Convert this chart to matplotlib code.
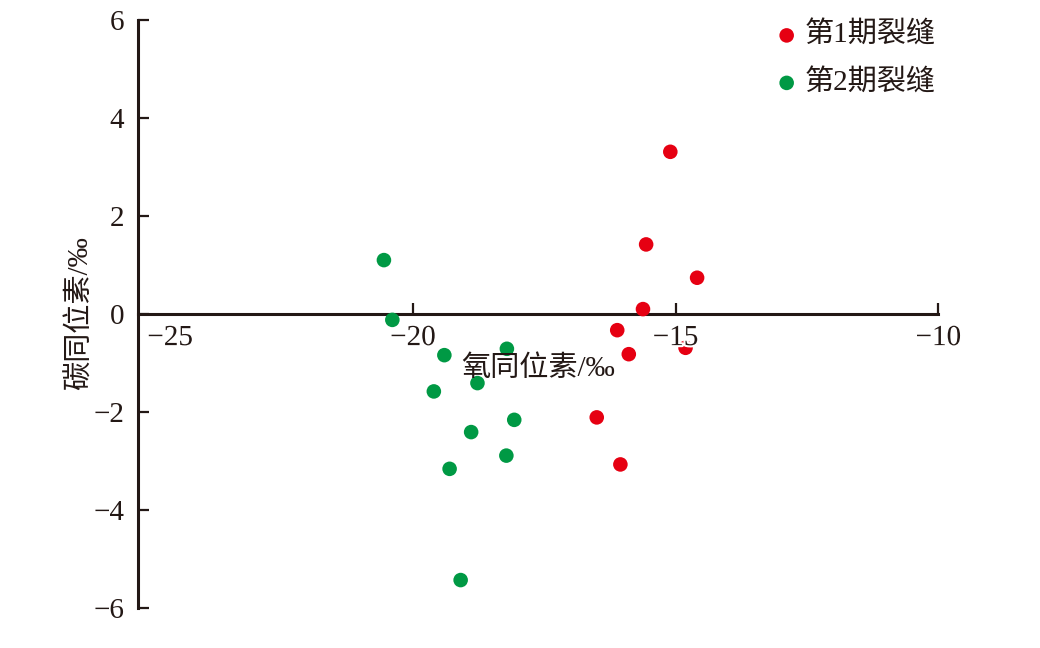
import matplotlib
matplotlib.use("Agg")
import matplotlib.pyplot as plt
import matplotlib.transforms as mtransforms
import matplotlib.patheffects as pe

plt.rcParams['font.family'] = ['Liberation Serif', 'Noto Sans CJK SC', 'DejaVu Sans']
plt.rcParams['axes.unicode_minus'] = True

# Data
s1_label = "第1期裂缝"
s1_x = [-15.10, -15.56, -14.59, -15.62, -16.11, -15.89, -14.81, -16.50, -16.05]
s1_y = [3.31, 1.42, 0.74, 0.10, -0.33, -0.82, -0.69, -2.11, -3.07]

s2_label = "第2期裂缝"
s2_x = [-20.55, -20.39, -19.40, -18.21, -18.77, -19.60, -18.07, -18.89, -18.22, -19.30, -19.09]
s2_y = [1.10, -0.12, -0.84, -0.71, -1.41, -1.58, -2.16, -2.41, -2.89, -3.16, -5.43]

x_ticks = [-25, -20, -15, -10]
y_ticks = [-6, -4, -2, 0, 2, 4, 6]
x_label = "氧同位素/‰"
y_label = "碳同位素/‰"

W, H = 1040, 648
fig = plt.figure(figsize=(W / 100, H / 100), dpi=100)
ax = fig.add_axes([138 / W, 1 - 608 / H, (938.3 - 138) / W, (608 - 20) / H])

red = "#E60012"
green = "#009944"
ax.scatter(s1_x, s1_y, s=110, color=red, edgecolors='none', label=s1_label, zorder=3)
ax.scatter(s2_x, s2_y, s=110, color=green, edgecolors='none', label=s2_label, zorder=3)

ax.set_xlim(-25.23, -10)
ax.set_ylim(-6, 6)
ax.set_xticks(x_ticks)
ax.set_yticks(y_ticks)

for s in ['top', 'right']:
    ax.spines[s].set_visible(False)
ax.spines['bottom'].set_position(('data', 0))
ax.spines['bottom'].set_linewidth(2.2)
ax.spines['left'].set_linewidth(2.2)
ax.spines['bottom'].set_color('#231815')
ax.spines['left'].set_color('#231815')

ax.tick_params(axis='both', direction='in', length=8, width=1.6, color='#231815',
               labelsize=21, labelcolor='#231815')
ax.tick_params(axis='x', pad=8)
ax.tick_params(axis='y', pad=10)
ax.xaxis.set_zorder(4)

# first x tick: no tick mark, label shifted right
ticks = ax.xaxis.get_major_ticks()
ticks[0].tick1line.set_visible(False)
offset = mtransforms.ScaledTranslation(20 / 100, 0, fig.dpi_scale_trans)
ticks[0].label1.set_transform(ticks[0].label1.get_transform() + offset)
for lab in ax.get_xticklabels():
    lab.set_path_effects([pe.withStroke(linewidth=3, foreground='white')])

fig.text(538 / W, 1 - 369 / H, x_label, fontsize=21, ha='center', va='center', color='#231815')
fig.text(80 / W, 1 - 313 / H, y_label, fontsize=21, ha='center', va='center',
         rotation=90, color='#231815')

leg = ax.legend(loc='upper left', bbox_to_anchor=(775 / W, 1 - 22 / H),
                bbox_transform=fig.transFigure, frameon=False, fontsize=21,
                handlelength=0.8, handletextpad=0.2, labelspacing=0.7,
                borderpad=0, borderaxespad=0)
for t in leg.get_texts():
    t.set_color('#231815')

fig.savefig("out.png", dpi=100)
